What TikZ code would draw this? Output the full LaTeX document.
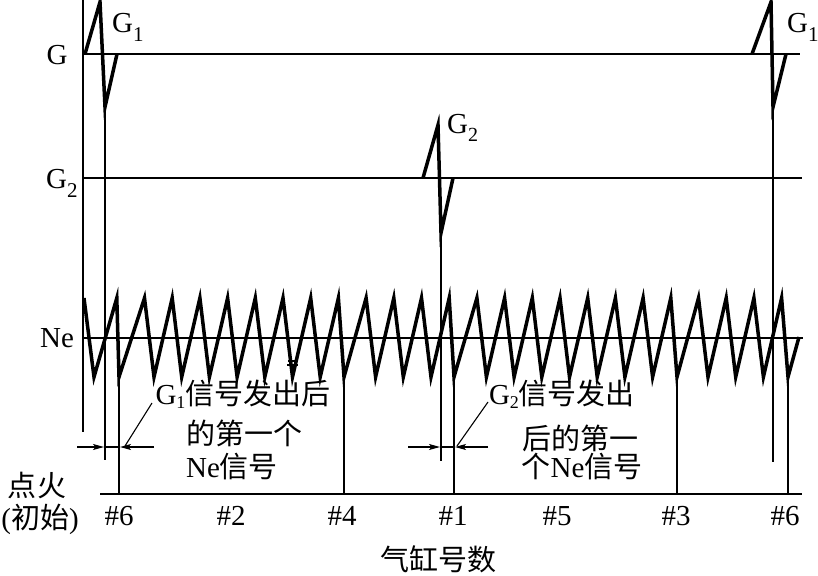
\documentclass[tikz,border=0pt]{standalone}
\usepackage{fontspec}
\setmainfont{Liberation Serif}
\newfontfamily\cjk{Noto Sans CJK SC}
\usetikzlibrary{arrows.meta}
\newcommand{\Gsb}[3]{G\raisebox{-#2pt}{\fontsize{#3}{#3}\selectfont #1}}
\begin{document}
\begin{tikzpicture}[x=1pt,y=-1pt,
  hair/.style={line width=1.1pt},
  wave/.style={line width=3.5pt},
  lbl/.style={inner sep=0pt, font=\fontsize{29}{30}\selectfont},
  cn/.style={inner sep=0pt, font=\fontsize{29}{30}\selectfont\cjk},
  arr/.style={line width=1.1pt, -{Stealth[length=11pt,width=6pt,inset=2.5pt]}}
]
\useasboundingbox (0,0) rectangle (818,575);

% ---- coordinates ----
\coordinate (axT) at (83,0);   \coordinate (axB) at (83,432);
\coordinate (gL) at (83,54);   \coordinate (gR) at (800,54);
\coordinate (g2L) at (83,178); \coordinate (g2R) at (802,178);
\coordinate (neL) at (83,338); \coordinate (neR) at (803,338);
\coordinate (baseL) at (100,494); \coordinate (baseR) at (802,494);

% pulse bottoms and their line ends
\coordinate (p1a) at (105,107); \coordinate (p1aE) at (105,460);
\coordinate (p2) at (441,233);  \coordinate (p2E) at (441,461);
\coordinate (p1b) at (773,107); \coordinate (p1bE) at (773,462);

% ignition troughs and axis points
\coordinate (t6) at (119,377);  \coordinate (a6) at (119,494);
\coordinate (t4) at (344,377);  \coordinate (a4) at (344,494);
\coordinate (t1) at (454,377);  \coordinate (a1) at (454,494);
\coordinate (t3) at (677,377);  \coordinate (a3) at (677,494);
\coordinate (t6b) at (788,377); \coordinate (a6b) at (788,494);

% ---- thin lines ----
\draw[hair] (axT) -- (axB);
\draw[hair] (gL) -- (gR);
\draw[hair] (g2L) -- (g2R);
\draw[hair] (neL) -- (neR);
\draw[hair] (baseL) -- (baseR);
\draw[hair] (p1a) -- (p1aE);
\draw[hair] (p2) -- (p2E);
\draw[hair] (p1b) -- (p1bE);
\draw[hair] (t6) -- (a6);
\draw[hair] (t4) -- (a4);
\draw[hair] (t1) -- (a1);
\draw[hair] (t3) -- (a3);
\draw[hair] (t6b) -- (a6b);

% small mark
\draw[hair] (288,361) -- (297,361);
\draw[hair] (287,365) -- (298,365);

% ---- G pulses ----
\draw[wave] (85,54) -- (100,2) -- (p1a) -- (117,54);
\draw[wave] (752,54) -- (771,2) -- (p1b) -- (786,54);
\draw[wave] (423,178) -- (438,125) -- (p2) -- (453,178);

% ---- Ne waveform ----
\draw[wave] (84,298) -- (94,377)
  -- (116.8,298) -- (t6)
  -- (144.5,298) -- (154.0,377)
  -- (172.2,298) -- (181.7,377)
  -- (199.9,298) -- (209.4,377)
  -- (227.6,298) -- (237.1,377)
  -- (255.3,298) -- (264.8,377)
  -- (283.0,298) -- (292.5,377)
  -- (310.7,298) -- (320.2,377)
  -- (338.4,298) -- (t4)
  -- (366.1,298) -- (375.6,377)
  -- (393.8,298) -- (403.3,377)
  -- (421.5,298) -- (431.0,377)
  -- (449.2,298) -- (t1)
  -- (476.9,298) -- (486.4,377)
  -- (504.6,298) -- (514.1,377)
  -- (532.3,298) -- (541.8,377)
  -- (560.0,298) -- (569.5,377)
  -- (587.7,298) -- (597.2,377)
  -- (615.4,298) -- (624.9,377)
  -- (643.1,298) -- (652.6,377)
  -- (670.8,298) -- (t3)
  -- (698.5,298) -- (708.0,377)
  -- (726.2,298) -- (735.7,377)
  -- (753.9,298) -- (763.4,377)
  -- (781.6,298) -- (t6b)
  -- (799,337);

% ---- annotation arrows ----
\coordinate (l0) at (77,447);  \coordinate (l1) at (104,447);
\coordinate (l2) at (120,447); \coordinate (l3) at (154,447);
\coordinate (lq) at (152,403); \coordinate (lqE) at (125,446);
\draw[hair] (l1) -- (l2);
\draw[arr] (l0) -- (l1);
\draw[arr] (l3) -- (l2);
\draw[hair] (lq) -- (lqE);

\coordinate (r0) at (408,447); \coordinate (r1) at (440,447);
\coordinate (r2) at (455,447); \coordinate (r3) at (488,447);
\coordinate (rq) at (488,402); \coordinate (rqE) at (457,446);
\draw[hair] (r1) -- (r2);
\draw[arr] (r0) -- (r1);
\draw[arr] (r3) -- (r2);
\draw[hair] (rq) -- (rqE);

% ---- labels ----
\node[lbl, anchor=base] (Glab) at (57,65) {G};
\node[lbl, anchor=base west] (G2lab) at (46,188) {\Gsb{2}{9}{21}};
\node[lbl, anchor=base west] (Nelab) at (40,347) {Ne};
\node[lbl, anchor=base west] (G1a) at (112,33) {\Gsb{1}{9}{21}};
\node[lbl, anchor=base west] (G1b) at (787,33) {\Gsb{1}{9}{21}};
\node[lbl, anchor=base west] (G2m) at (447,133) {\Gsb{2}{8}{20}};

\node[cn, anchor=base] (L1) at (243,404) {{\rmfamily\Gsb{1}{4}{18}}信号发出后};
\node[cn, anchor=base] (L2) at (244,444) {的第一个};
\node[cn, anchor=base] (L3) at (232,477) {{\rmfamily Ne}信号};
\node[cn, anchor=base] (R1) at (562,404) {{\rmfamily\Gsb{2}{4}{18}}信号发出};
\node[cn, anchor=base] (R2) at (580,449) {后的第一};
\node[cn, anchor=base] (R3) at (582,477) {个{\rmfamily Ne}信号};

\node[lbl, anchor=base] (c6) at (119,525) {\#6};
\node[lbl, anchor=base] (c2) at (231,525) {\#2};
\node[lbl, anchor=base] (c4) at (342,525) {\#4};
\node[lbl, anchor=base] (c1) at (453,525) {\#1};
\node[lbl, anchor=base] (c5) at (557,525) {\#5};
\node[lbl, anchor=base] (c3) at (676,525) {\#3};
\node[lbl, anchor=base] (c6b) at (785,525) {\#6};

\node[cn, anchor=base] (ign) at (37,496) {点火};
\node[cn, anchor=base] (init) at (40,528) {{\rmfamily(}初始{\rmfamily)}};
\node[cn, anchor=base] (cyl) at (438,570) {气缸号数};
\end{tikzpicture}
\end{document}
